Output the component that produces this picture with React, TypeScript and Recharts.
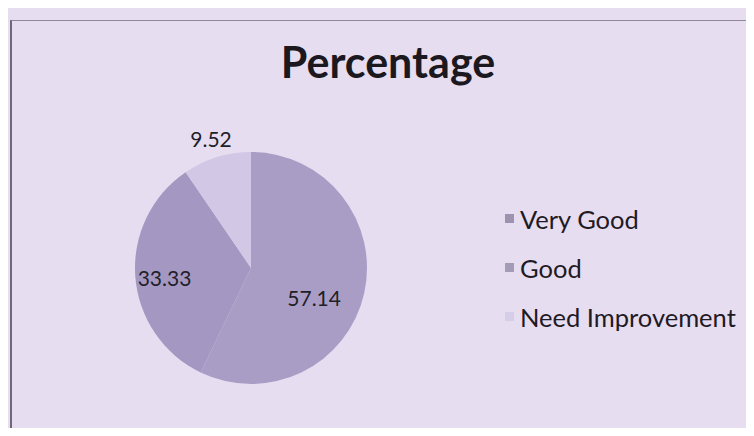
import { PieChart, Pie, Cell, Legend } from "recharts";

const categories = ["Very Good", "Good", "Need Improvement"];
const percentages = [57.14, 33.33, 9.52];
const sliceColors = ["#a99dc6", "#a497c2", "#d2c8e6"];
const legendColors = ["#9d93b0", "#a49cb4", "#d6cde8"];

const data = categories.map((name, i) => ({ name, value: percentages[i] }));

const RADIAN = Math.PI / 180;
// label distance (share of radius) and angle nudge per slice
const labelRadius = [0.6, 0.75, 1.17];
const labelTurn = [-12, 2, 0];

const renderLabel = (props: any) => {
  const { cx, cy, midAngle, outerRadius, index, value } = props;
  const r = outerRadius * labelRadius[index];
  const a = (midAngle + labelTurn[index]) * RADIAN;
  const x = cx + r * Math.cos(-a);
  const y = cy + r * Math.sin(-a);
  return (
    <text
      x={x}
      y={y}
      textAnchor="middle"
      dominantBaseline="central"
      fill="#221e28"
      fontSize={21}
      fontFamily="Lato, sans-serif"
    >
      {value.toFixed(2)}
    </text>
  );
};

const LegendList = () => (
  <ul style={{ listStyle: "none", margin: 0, padding: 0 }}>
    {categories.map((name, i) => (
      <li
        key={name}
        style={{
          display: "flex",
          alignItems: "center",
          height: 49,
          fontFamily: "Lato, sans-serif",
          fontSize: 25.5,
          color: "#1f1a24",
        }}
      >
        <span
          style={{
            display: "inline-block",
            width: 9,
            height: 9,
            background: legendColors[i],
            marginRight: 6,
          }}
        />
        {name}
      </li>
    ))}
  </ul>
);

const App = () => {
  return (
    <div
      style={{
        position: "relative",
        margin: -8,
        width: 754,
        height: 436,
        background: "#e7ddf1",
        overflow: "hidden",
      }}
    >
      <div
        style={{
          position: "absolute",
          left: 10,
          top: 20,
          width: 760,
          height: 430,
          borderLeft: "2px solid #6e6878",
          borderTop: "1px solid #8f889a",
        }}
      />
      <div
        style={{
          position: "absolute",
          top: 36,
          left: 0,
          width: 776,
          textAlign: "center",
          fontFamily: "Lato, sans-serif",
          fontWeight: 700,
          fontSize: 43,
          color: "#1c1820",
        }}
      >
        Percentage
      </div>
      <PieChart
        width={754}
        height={436}
        margin={{ top: 0, right: 0, bottom: 0, left: 0 }}
        style={{ position: "absolute", left: 0, top: 0 }}
      >
        <Pie
          data={data}
          dataKey="value"
          nameKey="name"
          cx={251}
          cy={268}
          outerRadius={116}
          startAngle={90}
          endAngle={-270}
          stroke="none"
          label={renderLabel}
          labelLine={false}
          isAnimationActive={false}
        >
          {data.map((d, i) => (
            <Cell key={d.name} fill={sliceColors[i]} />
          ))}
        </Pie>
        <Legend
          layout="vertical"
          align="right"
          verticalAlign="top"
          content={<LegendList />}
          wrapperStyle={{ left: 505, top: 194, width: 245 }}
        />
      </PieChart>
    </div>
  );
};

export default App;
